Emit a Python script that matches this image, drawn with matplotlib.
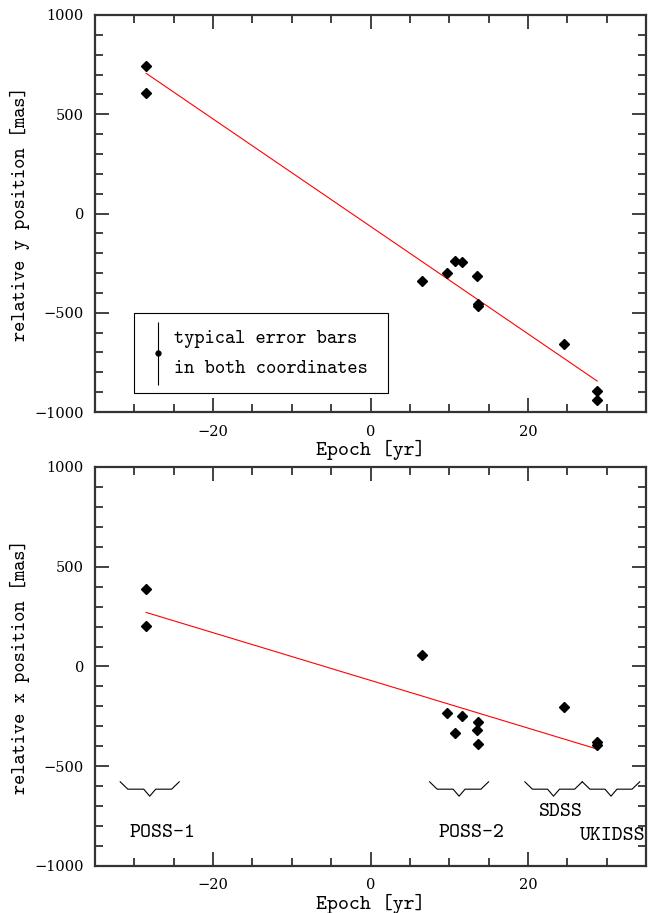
import numpy as np
from matplotlib import pyplot as plt
from matplotlib.patches import Rectangle
from matplotlib.ticker import MultipleLocator

plt.rcParams["font.family"] = "DejaVu Serif"
plt.rcParams["axes.unicode_minus"] = True

# epochs of the measurements (yr, relative)
epoch = [-28.5, -28.5, 6.5, 9.7, 10.7, 11.6, 13.5, 13.6, 13.7, 24.6, 28.8, 28.8]
# relative y position (mas)
ypos = [745, 606, -340, -298, -241, -244, -315, -466, -456, -657, -893, -941]
# relative x position (mas)
xpos = [390, 203, 57, -232, -333, -247, -319, -276, -390, -202, -378, -392]

# linear fits (endpoints)
fit_t = [-28.5, 28.8]
fit_y = [706, -844]
fit_x = [271, -414]

# surveys: name, start, end
surveys = ["POSS-1", "POSS-2", "SDSS", "UKIDSS"]
survey_start = [-31.8, 7.5, 19.6, 26.9]
survey_end = [-24.3, 15.0, 26.9, 34.2]
label_x = [-26.5, 12.8, 24.2, 30.8]
label_y = [-834, -834, -729, -849]

FS = 10.5
TT = "cmtt10"   # typewriter font for labels
TFS = 14


def style_axes(ax):
    ax.set_xlim(-35, 35)
    ax.set_ylim(-1000, 1000)
    ax.xaxis.set_major_locator(MultipleLocator(20))
    ax.xaxis.set_minor_locator(MultipleLocator(5))
    ax.yaxis.set_major_locator(MultipleLocator(500))
    ax.yaxis.set_minor_locator(MultipleLocator(100))
    ax.tick_params(which="both", direction="in", top=True, right=True,
                   labelsize=FS, color="#333333", width=1.3)
    ax.tick_params(which="major", length=10)
    ax.tick_params(axis="x", which="major", pad=9)
    ax.tick_params(axis="y", which="major", pad=8)
    ax.tick_params(which="minor", length=6)
    for s in ax.spines.values():
        s.set_linewidth(1.6)
        s.set_color("#333333")
    ax.set_xlabel("Epoch [yr]", fontsize=TFS + 1, family=TT, labelpad=1)


def brace(ax, x0, x1, ytop=-578, ymid=-615, ytip=-650):
    xc = 0.5 * (x0 + x1)
    d = 0.97
    e = 0.76
    xs = [x0, x0 + d, xc - e, xc, xc + e, x1 - d, x1]
    ys = [ytop, ymid, ymid, ytip, ymid, ymid, ytop]
    ax.plot(xs, ys, color="black", lw=0.8)


fig = plt.figure(figsize=(6.58, 9.13), dpi=100)
ax1 = fig.add_axes([0.1444, 0.5487, 0.8374, 0.4349])
ax2 = fig.add_axes([0.1444, 0.0515, 0.8374, 0.4370])

# top panel: y position
ax1.plot(fit_t, fit_y, color="red", lw=0.8)
ax1.plot(epoch, ypos, "D", color="black", ms=5)
style_axes(ax1)
ax1.set_ylabel("relative y position [mas]", fontsize=TFS, family=TT, labelpad=3)

# box with typical error bars
ax1.add_patch(Rectangle((-30.06, -903), 32.24, 400, fill=False,
                        edgecolor="black", lw=0.8))
ax1.errorbar([-27.0], [-704], yerr=[[159], [160]], fmt="o", color="black",
             ms=3.5, elinewidth=0.8, capsize=0)
ax1.text(-25.0, -634, "typical error bars", fontsize=TFS, family=TT, va="center")
ax1.text(-25.0, -785, "in both coordinates", fontsize=TFS, family=TT, va="center")

# bottom panel: x position
ax2.plot(fit_t, fit_x, color="red", lw=0.8)
ax2.plot(epoch, xpos, "D", color="black", ms=5)
style_axes(ax2)
ax2.set_ylabel("relative x position [mas]", fontsize=TFS, family=TT, labelpad=3)

for name, s0, s1, lx, ly in zip(surveys, survey_start, survey_end, label_x, label_y):
    brace(ax2, s0, s1)
    ax2.text(lx, ly, name, fontsize=TFS + 1, family=TT, ha="center", va="center")

plt.savefig("out.png", dpi=100)
plt.close()
